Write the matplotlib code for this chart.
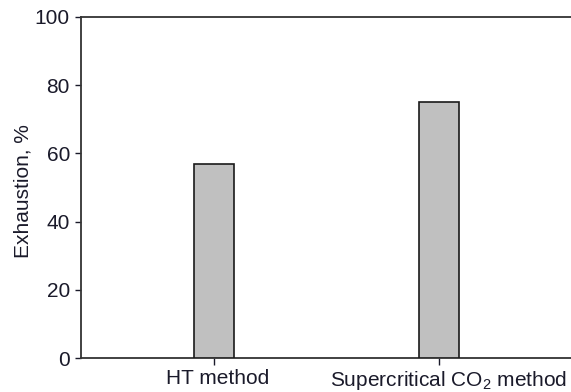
import matplotlib
matplotlib.use("Agg")
import matplotlib.pyplot as plt
from matplotlib.transforms import ScaledTranslation

# Dye exhaustion for the two dyeing methods
methods = ["HT method", r"Supercritical CO$_2$ method"]
exhaustion = [57, 75]
y_ticks = [0, 20, 40, 60, 80, 100]

plt.rcParams["font.family"] = ["Liberation Sans", "DejaVu Sans"]
plt.rcParams["mathtext.fontset"] = "custom"
plt.rcParams["mathtext.rm"] = "Liberation Sans"
plt.rcParams["mathtext.it"] = "Liberation Sans:italic"

W, H = 571, 392
fig = plt.figure(figsize=(W / 100, H / 100), dpi=100)
ax = fig.add_axes([81 / W, 1 - 358 / H, (W - 81) / W, (358 - 17) / H])

x = list(range(len(methods)))
ax.bar(x, exhaustion, width=0.175, color="#c0c0c0", edgecolor="#1a1a1a", linewidth=1.2, zorder=3)

ax.set_xlim(-0.591, 1.587)
ax.set_ylim(0, 100)
ax.set_yticks(y_ticks)
ax.set_xticks(x)
ax.set_xticklabels(methods)

fs = 15
text_color = "#1a1a2a"
ax.tick_params(axis="y", direction="out", length=4, width=1.0, pad=4, labelsize=fs, colors=text_color)
ax.tick_params(axis="x", direction="out", length=5, width=1.0, pad=3, labelsize=fs, colors=text_color)
ax.set_ylabel("Exhaustion, %", fontsize=fs, color=text_color)
ax.yaxis.set_label_coords(-0.098, 0.49)

# category labels sit slightly right of their ticks
for lab, dx in zip(ax.get_xticklabels(), [4, 10]):
    lab.set_transform(lab.get_transform() + ScaledTranslation(dx / 100, 0, fig.dpi_scale_trans))

for side in ["left", "top", "bottom"]:
    ax.spines[side].set_linewidth(1.3)
    ax.spines[side].set_color("#333333")
ax.spines["right"].set_visible(False)

fig.savefig("out.png", dpi=100)
